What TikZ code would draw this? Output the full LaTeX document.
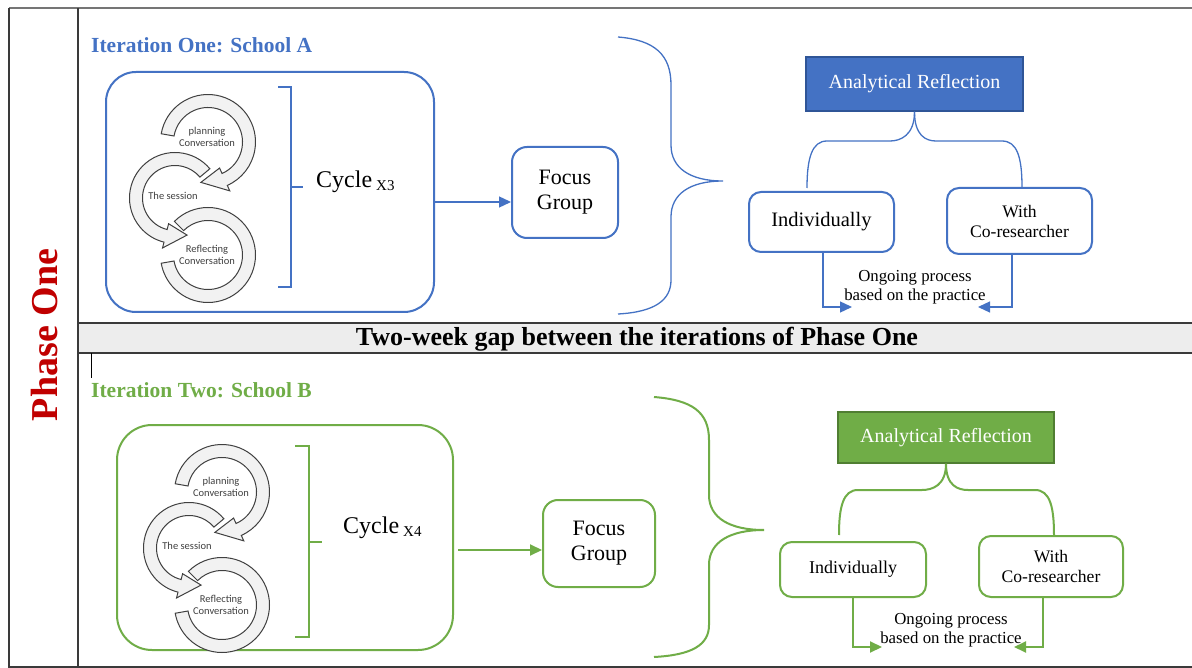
\documentclass[tikz,border=0pt]{standalone}
\usepackage{fontspec}
\setmainfont{Liberation Serif}
\newfontfamily\cycfont{Carlito}
\usetikzlibrary{arrows.meta,calc}
\definecolor{myblue}{HTML}{4472C4}
\definecolor{mybluedark}{HTML}{2F5597}
\definecolor{mygreen}{HTML}{70AD47}
\definecolor{mygreendark}{HTML}{507E32}
\definecolor{myred}{HTML}{C00000}
\definecolor{cycfill}{HTML}{F2F2F2}
\definecolor{cycline}{HTML}{404040}
\definecolor{framegray}{HTML}{3A3A3A}
\definecolor{bandfill}{HTML}{EDEDED}
\newcommand\cycband[6]{%
  \filldraw[cycstyle] ($(#1,#2)+(#3:{#5+#6})$) arc[start angle=#3,end angle=#4,radius={#5+#6}]
  -- ($(#1,#2)+(#4:{#5-#6})$) arc[start angle=#4,end angle=#3,radius={#5-#6}] -- cycle;}
\newcommand\cycarrow[8]{%
  \filldraw[cycstyle] ($(#1,#2)+(#3:{#5+#6})$) arc[start angle=#3,end angle=#4,radius={#5+#6}]
  -- ($(#1,#2)+(#4:{#5+#7})$) -- ($(#1,#2)+(#8:#5)$) -- ($(#1,#2)+(#4:{#5-#7})$)
  -- ($(#1,#2)+(#4:{#5-#6})$) arc[start angle=#4,end angle=#3,radius={#5-#6}] -- cycle;}
\newcommand\cyclefig{%
  \cycband{208}{255}{225}{530}{41}{6.5}
  \cycarrow{175}{198}{320}{104}{39}{6.5}{12.5}{72}
  \cycarrow{208}{142}{190}{426}{41}{6.5}{12.5}{460}
  \node[cyctext] (cp\cycid) at (207,137) {planning\\Conversation};
  \node[cyctext] (cs\cycid) at (173,196) {The session};
  \node[cyctext] (cr\cycid) at (207,255) {Reflecting\\Conversation};
}
\begin{document}
\begin{tikzpicture}[x=1pt,y=-1pt,
  cycstyle/.style={fill=cycfill,draw=cycline,line width=1pt},
  cyctext/.style={font=\cycfont\fontsize{10.5}{12}\selectfont,text=cycline,align=center,inner sep=0},
  framel/.style={draw=framegray,line width=1.5pt},
  bigbox/.style={draw=#1,line width=2pt,inner sep=0},
  smallbox/.style={draw=#1,line width=2pt,rounded corners=12pt,inner sep=0,align=center},
  arbox/.style={fill=#1,inner sep=0,text=white},
  conn/.style={draw=#1,line width=1.3pt,-{Triangle[length=12pt,width=11pt]}},
  bline/.style={draw=#1,line width=1.3pt},
  title/.style={font=\bfseries\fontsize{21.5}{24}\selectfont,text=#1,anchor=west,inner sep=0},
  cyclab/.style={font=\fontsize{24}{28}\selectfont,anchor=west,inner sep=0},
  ongo/.style={font=\fontsize{16.8}{18.5}\selectfont,align=center,inner sep=0}
]
\useasboundingbox (0,0) rectangle (1192,668);
\fill[white] (0,0) rectangle (1192,668);
% frame
\fill[bandfill] (78,323) rectangle (1192,353);
\draw[framel] (78,323) -- (1192,323);
\draw[framel] (78,353) -- (1192,353);
\draw[draw=framegray!70,line width=2pt] (9,8) -- (1192,8);
\draw[framel] (9,8) -- (9,667) -- (1192,667);
\draw[framel] (78,8) -- (78,667);
\draw[draw=black,line width=1pt] (91,353) -- (91,378);
\node[font=\bfseries\fontsize{38}{40}\selectfont,text=myred,rotate=90,inner sep=0] (phase) at (45,335) {Phase One};
\node[font=\bfseries\fontsize{26}{28}\selectfont,inner sep=0] (gap) at (637,339) {Two-week gap between the iterations of Phase One};

% ===== Iteration One =====
\node[title=myblue] (t1) at (91,45) {Iteration One: School A};
\node[bigbox=myblue,rounded corners=30pt,minimum width=328pt,minimum height=240pt] (box1) at (270,192) {};
\def\cycid{1}
\cyclefig
\draw[bline=myblue] (278,87) -- (291,87) -- (291,287) -- (278,287);
\draw[bline=myblue] (291,187) -- (303,187);
\node[cyclab] (cyc1) at (316,182) {Cycle\,{\fontsize{15}{17}\selectfont\raisebox{-3pt}{X3}}};
\node[smallbox=myblue,rounded corners=15pt,minimum width=106pt,minimum height=91pt,font=\fontsize{22}{25}\selectfont] (fg1) at (565,192.5) {Focus\\Group};
\coordinate (a1) at (480,202);
\draw[conn=myblue] (box1.east |- a1) -- (fg1.west |- a1);
\draw[bline=myblue] (618,37) .. controls (655,40) and (671,55) .. (671,85) -- (671,145)
  .. controls (671,168) and (690,181) .. (723,181)
  .. controls (690,181) and (671,194) .. (671,217) -- (671,280)
  .. controls (671,300) and (655,312) .. (618,314);
\node[arbox=myblue,draw=mybluedark,line width=1.5pt,minimum width=217pt,minimum height=54pt,font=\fontsize{20}{24}\selectfont] (ar1) at (914.5,84) {Analytical Reflection};
\node[smallbox=myblue,minimum width=145pt,minimum height=60pt,font=\fontsize{20.5}{24}\selectfont] (ind1) at (821.5,222) {Individually};
\node[smallbox=myblue,minimum width=145pt,minimum height=66pt,font=\fontsize{17.6}{20}\selectfont] (co1) at (1019.5,221) {With\\Co-researcher};
\draw[bline=myblue] (ar1.south) .. controls +(0,24) and +(10,0) .. (890,141) -- (827,141) .. controls +(-15,0) and +(0,-30) .. (807,188);
\draw[bline=myblue] (ar1.south) .. controls +(0,24) and +(-10,0) .. (936,141) -- (1002,141) .. controls +(15,0) and +(0,-30) .. (1022,187);
\coordinate (o1a) at (852,307);
\coordinate (o1b) at (978,307);
\draw[conn=myblue] ([xshift=1.5pt]ind1.south) |- (o1a);
\draw[conn=myblue] ([xshift=-7.5pt]co1.south) |- (o1b);
\node[ongo] (og1) at (915,287) {Ongoing process\\based on the practice};

% ===== Iteration Two =====
\node[title=mygreen] (t2) at (91,390) {Iteration Two: School B};
\node[bigbox=mygreen,rounded corners=35pt,minimum width=336pt,minimum height=225pt] (box2) at (285,537.5) {};
\begin{scope}[shift={(14,350)}]
\def\cycid{2}
\cyclefig
\end{scope}
\draw[bline=mygreen,line width=2pt] (295,446) -- (309,446) -- (309,637) -- (295,637);
\draw[bline=mygreen,line width=2pt] (309,542) -- (322,542);
\node[cyclab] (cyc2) at (343,528) {Cycle\,{\fontsize{15}{17}\selectfont\raisebox{-3pt}{X4}}};
\node[smallbox=mygreen,rounded corners=15pt,minimum width=112pt,minimum height=87pt,font=\fontsize{22}{25}\selectfont] (fg2) at (599,543.5) {Focus\\Group};
\coordinate (a2) at (500,550);
\draw[conn=mygreen,line width=2pt,shorten <=4pt] (box2.east |- a2) -- (fg2.west |- a2);
\draw[bline=mygreen,line width=2pt] (654,397) .. controls (692,400) and (709,412) .. (709,440) -- (709,495)
  .. controls (709,518) and (730,530) .. (764,530)
  .. controls (730,530) and (709,542) .. (709,565) -- (709,625)
  .. controls (709,645) and (692,655) .. (654,657);
\node[arbox=mygreen,draw=mygreendark,line width=1.5pt,minimum width=216pt,minimum height=51pt,font=\fontsize{20}{24}\selectfont] (ar2) at (946,437.5) {Analytical Reflection};
\node[smallbox=mygreen,minimum width=146pt,minimum height=55pt,font=\fontsize{18}{21}\selectfont] (ind2) at (853,569.5) {Individually};
\node[smallbox=mygreen,minimum width=144pt,minimum height=61pt,font=\fontsize{17.6}{20}\selectfont] (co2) at (1051,566.5) {With\\Co-researcher};
\draw[bline=mygreen,line width=2pt] (ar2.south) .. controls +(0,22) and +(10,0) .. (922,490) -- (858,490) .. controls +(-15,0) and +(0,-28) .. (839,535);
\draw[bline=mygreen,line width=2pt] (ar2.south) .. controls +(0,22) and +(-10,0) .. (968,490) -- (1035,490) .. controls +(15,0) and +(0,-28) .. (1054,535);
\coordinate (o2a) at (882,647);
\coordinate (o2b) at (1014,647);
\draw[conn=mygreen,line width=2pt] (ind2.south) |- (o2a);
\draw[conn=mygreen,line width=2pt] ([xshift=-8pt]co2.south) |- (o2b);
\node[ongo] (og2) at (951,630) {Ongoing process\\based on the practice};
\end{tikzpicture}
\end{document}
